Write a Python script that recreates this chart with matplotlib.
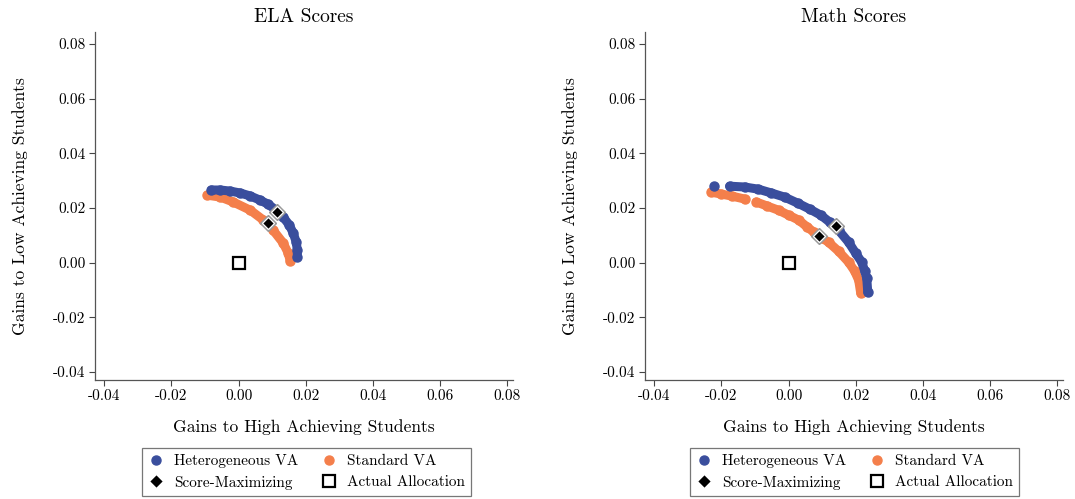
import numpy as np
import matplotlib
matplotlib.use("Agg")
import matplotlib.pyplot as plt
from matplotlib.lines import Line2D
from matplotlib.ticker import FuncFormatter

plt.rcParams['font.family'] = 'serif'
plt.rcParams['font.serif'] = ['cmr10', 'DejaVu Serif']
plt.rcParams['mathtext.fontset'] = 'cm'
plt.rcParams['axes.unicode_minus'] = False
plt.rcParams['axes.formatter.use_mathtext'] = True

BLUE = '#3a4e9d'
ORANGE = '#f47f4b'

# frontier points (gain to high achievers, gain to low achievers); nan splits segments
ela_het_x = [-0.0081, -0.0054, -0.0025, 0.0005, 0.0035, 0.0064, 0.0088, 0.0112,
             0.0133, 0.0151, 0.0163, 0.0172, 0.0175, 0.0175]
ela_het_y = [0.0266, 0.0266, 0.0262, 0.0255, 0.0244, 0.0229, 0.0214, 0.0192,
             0.0167, 0.0138, 0.0108, 0.0075, 0.0046, 0.0020]
ela_std_x = [-0.0093, -0.0054, -0.0016, 0.0035, 0.0074, 0.0103, 0.0133, 0.0148, 0.0154]
ela_std_y = [0.0247, 0.0240, 0.0222, 0.0192, 0.0156, 0.0119, 0.0072, 0.0035, 0.0006]
ela_best_het = (0.0115, 0.0185)
ela_best_std = (0.0088, 0.0145)

math_het_x = [-0.0222, np.nan, -0.0176, -0.0131, -0.0090, -0.0051, -0.0012, 0.0027,
              0.0063, 0.0096, 0.0122, 0.0149, 0.0179, 0.0200, 0.0218, 0.0227,
              0.0233, 0.0236]
math_het_y = [0.0280, np.nan, 0.0280, 0.0277, 0.0269, 0.0255, 0.0240, 0.0218,
              0.0196, 0.0174, 0.0149, 0.0119, 0.0075, 0.0035, 0.0002, -0.0030,
              -0.0056, -0.0108]
math_std_x = [-0.0230, -0.0200, -0.0170, -0.0131, np.nan, -0.0096, -0.0063, -0.0030,
              0.0000, 0.0030, 0.0055, 0.0075, 0.0100, 0.0119, 0.0149, 0.0179,
              0.0197, 0.0209, 0.0215]
math_std_y = [0.0258, 0.0251, 0.0244, 0.0233, np.nan, 0.0222, 0.0207, 0.0192,
              0.0174, 0.0156, 0.0131, 0.0112, 0.0090, 0.0075, 0.0042, 0.0002,
              -0.0031, -0.0064, -0.0111]
math_best_het = (0.0140, 0.0134)
math_best_std = (0.0090, 0.0097)

actual = (0.0, 0.0)
ticks = [-0.04, -0.02, 0.00, 0.02, 0.04, 0.06, 0.08]

panels = [
    ("ELA Scores", ela_het_x, ela_het_y, ela_std_x, ela_std_y, ela_best_het, ela_best_std),
    ("Math Scores", math_het_x, math_het_y, math_std_x, math_std_y, math_best_het, math_best_std),
]

fig = plt.figure(figsize=(10.75, 4.99), dpi=100)
ax_lefts = [95 / 1075, 645 / 1075]
leg_centers = [306.5 / 1075, 854.5 / 1075]
fmt = FuncFormatter(lambda v, p: "%.2f" % v if abs(v) > 1e-9 else "0.00")


def diamond(ax, pt):
    ax.plot(*pt, marker='D', ms=8.5, color='#9a9a9a', ls='none', zorder=5)
    ax.plot(*pt, marker='D', ms=6.5, color='black', mec='white', mew=0.9,
            ls='none', zorder=6)


for i, (title, hx, hy, sx, sy, bh, bs) in enumerate(panels):
    ax = fig.add_axes([ax_lefts[i], 1 - 380 / 499, 418 / 1075, 348 / 499])
    ax.plot(sx, sy, color=ORANGE, lw=6.5, marker='o', ms=6.5,
            solid_capstyle='round', solid_joinstyle='round', zorder=2)
    ax.plot(hx, hy, color=BLUE, lw=6.5, marker='o', ms=6.5,
            solid_capstyle='round', solid_joinstyle='round', zorder=3)
    diamond(ax, bh)
    diamond(ax, bs)
    ax.plot(*actual, marker='s', ms=8.5, mfc='white', mec='black', mew=1.6,
            ls='none', zorder=4)

    ax.set_xlim(-0.0428, 0.0818)
    ax.set_ylim(-0.0429, 0.0844)
    ax.set_xticks(ticks)
    ax.set_yticks(ticks)
    ax.xaxis.set_major_formatter(fmt)
    ax.yaxis.set_major_formatter(fmt)
    ax.tick_params(direction='out', length=4, width=0.8, color='#444444',
                   labelsize=11, pad=3)
    for side in ('top', 'right'):
        ax.spines[side].set_visible(False)
    for side in ('left', 'bottom'):
        ax.spines[side].set_color('#555555')
        ax.spines[side].set_linewidth(0.9)
    ax.set_title(title, fontsize=14, pad=7)
    ax.set_xlabel("Gains to High Achieving Students", fontsize=12.6, labelpad=11)
    ax.set_ylabel("Gains to Low Achieving Students", fontsize=12.6, labelpad=18)

    handles = [
        Line2D([], [], marker='o', color=BLUE, ls='none', ms=6.5),
        Line2D([], [], marker='D', color='black', mec='white', mew=0.9, ls='none', ms=7),
        Line2D([], [], marker='o', color=ORANGE, ls='none', ms=6.5),
        Line2D([], [], marker='s', mfc='white', mec='black', mew=1.6, ls='none', ms=8),
    ]
    labels = ["Heterogeneous VA", "Score-Maximizing", "Standard VA", "Actual Allocation"]
    leg = ax.legend(handles, labels, ncol=2, loc='upper center',
                    bbox_to_anchor=(leg_centers[i], 1 - 448 / 499),
                    bbox_transform=fig.transFigure, fontsize=11,
                    frameon=True, fancybox=False, edgecolor='#555555',
                    handlelength=1.0, handletextpad=0.7, borderpad=0.4,
                    labelspacing=0.5, columnspacing=1.5, borderaxespad=0)
    leg.get_frame().set_linewidth(0.9)

fig.savefig("out.png", dpi=100)
